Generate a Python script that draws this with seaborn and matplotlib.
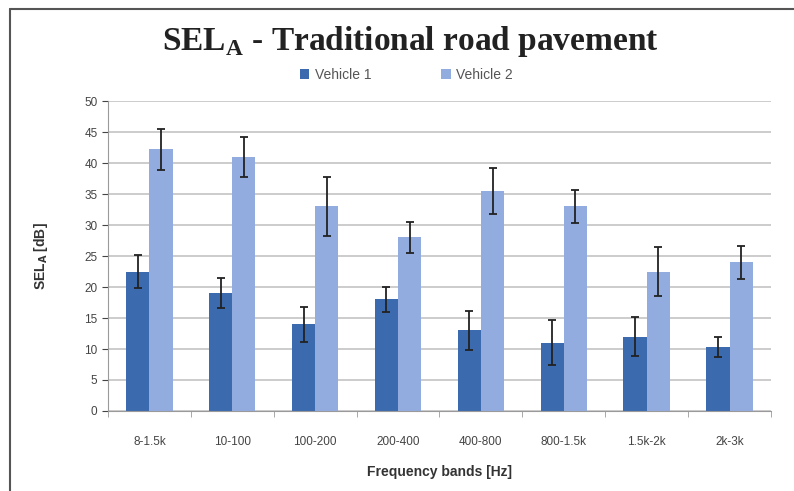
import numpy as np
import pandas as pd
import matplotlib
matplotlib.use("Agg")
import matplotlib.pyplot as plt
import seaborn as sns
from matplotlib.lines import Line2D

# Values
bands = ["8-1.5k", "10-100", "100-200", "200-400", "400-800", "800-1.5k", "1.5k-2k", "2k-3k"]
vehicle1 = [22.5, 19.0, 14.0, 18.0, 13.0, 11.0, 12.0, 10.3]
vehicle1_err = [2.7, 2.4, 2.8, 2.0, 3.2, 3.6, 3.2, 1.6]
vehicle2 = [42.2, 41.0, 33.0, 28.0, 35.5, 33.0, 22.5, 24.0]
vehicle2_err = [3.3, 3.2, 4.8, 2.5, 3.7, 2.6, 4.0, 2.7]
series = ["Vehicle 1", "Vehicle 2"]
colors = ["#3b6aae", "#93acdf"]

df = pd.DataFrame({
    "band": bands * 2,
    "vehicle": [series[0]] * len(bands) + [series[1]] * len(bands),
    "sel": vehicle1 + vehicle2,
    "err": vehicle1_err + vehicle2_err,
})

sns.set_style("white")
plt.rcParams["font.family"] = ["Liberation Sans", "DejaVu Sans"]

fig = plt.figure(figsize=(7.94, 4.91), dpi=100)
ax = fig.add_axes([0.136, 0.163, 0.835, 0.631])

sns.barplot(data=df, x="band", y="sel", hue="vehicle", palette=colors,
            order=bands, hue_order=series, width=0.56, errorbar=None,
            saturation=1, linewidth=0, ax=ax, legend=True)

# error bars at the bar centres
for container, s in zip(ax.containers, series):
    sub = df[df["vehicle"] == s].set_index("band").loc[bands]
    xs = [p.get_x() + p.get_width() / 2 for p in container.patches]
    ax.errorbar(xs, sub["sel"], yerr=sub["err"], fmt="none", ecolor="#222222",
                elinewidth=1.3, capsize=3, capthick=1.3, zorder=4)

ax.set_ylim(0, 50)
ax.set_yticks(np.arange(0, 51, 5))
ax.set_xlim(-0.5, len(bands) - 0.5)
ax.yaxis.grid(True, color="#c4c4c4", linewidth=1.2)
ax.set_axisbelow(True)
for side in ["top", "right"]:
    ax.spines[side].set_visible(False)
for side in ["left", "bottom"]:
    ax.spines[side].set_color("#9a9a9a")
ax.tick_params(axis="both", labelsize=8.5, colors="#444444", length=4,
               direction="out", left=True, bottom=False)
ax.tick_params(axis="x", pad=14)
ax.set_xticks(np.arange(-0.5, len(bands)), minor=True)
ax.tick_params(axis="x", which="minor", length=4, color="#9a9a9a", bottom=True)

ax.set_xlabel("Frequency bands [Hz]", fontsize=10, fontweight="bold", color="#333333",
              labelpad=12)
ax.set_ylabel("SEL$_\\mathbf{A}$ [dB]", fontsize=10, fontweight="bold", color="#333333",
              labelpad=25)

leg = ax.legend(loc="lower center", bbox_to_anchor=(0.45, 1.03), ncol=2, frameon=False,
                fontsize=10, handlelength=0.7, handleheight=0.7, columnspacing=5,
                handletextpad=0.4, borderaxespad=0.3)
for t in leg.get_texts():
    t.set_color("#555555")

fig.text(0.517, 0.915, "SEL$_\\mathregular{A}$ - Traditional road pavement", ha="center", va="center",
         fontsize=24, fontweight="bold", family="Liberation Serif", color="#222222")

# chart-area frame (top and left edges visible)
fig.add_artist(Line2D([10 / 794, 1.0], [1 - 9 / 491, 1 - 9 / 491], color="#555555", lw=1.5))
fig.add_artist(Line2D([10 / 794, 10 / 794], [0.0, 1 - 9 / 491], color="#555555", lw=1.5))

fig.savefig("out.png", dpi=100)
